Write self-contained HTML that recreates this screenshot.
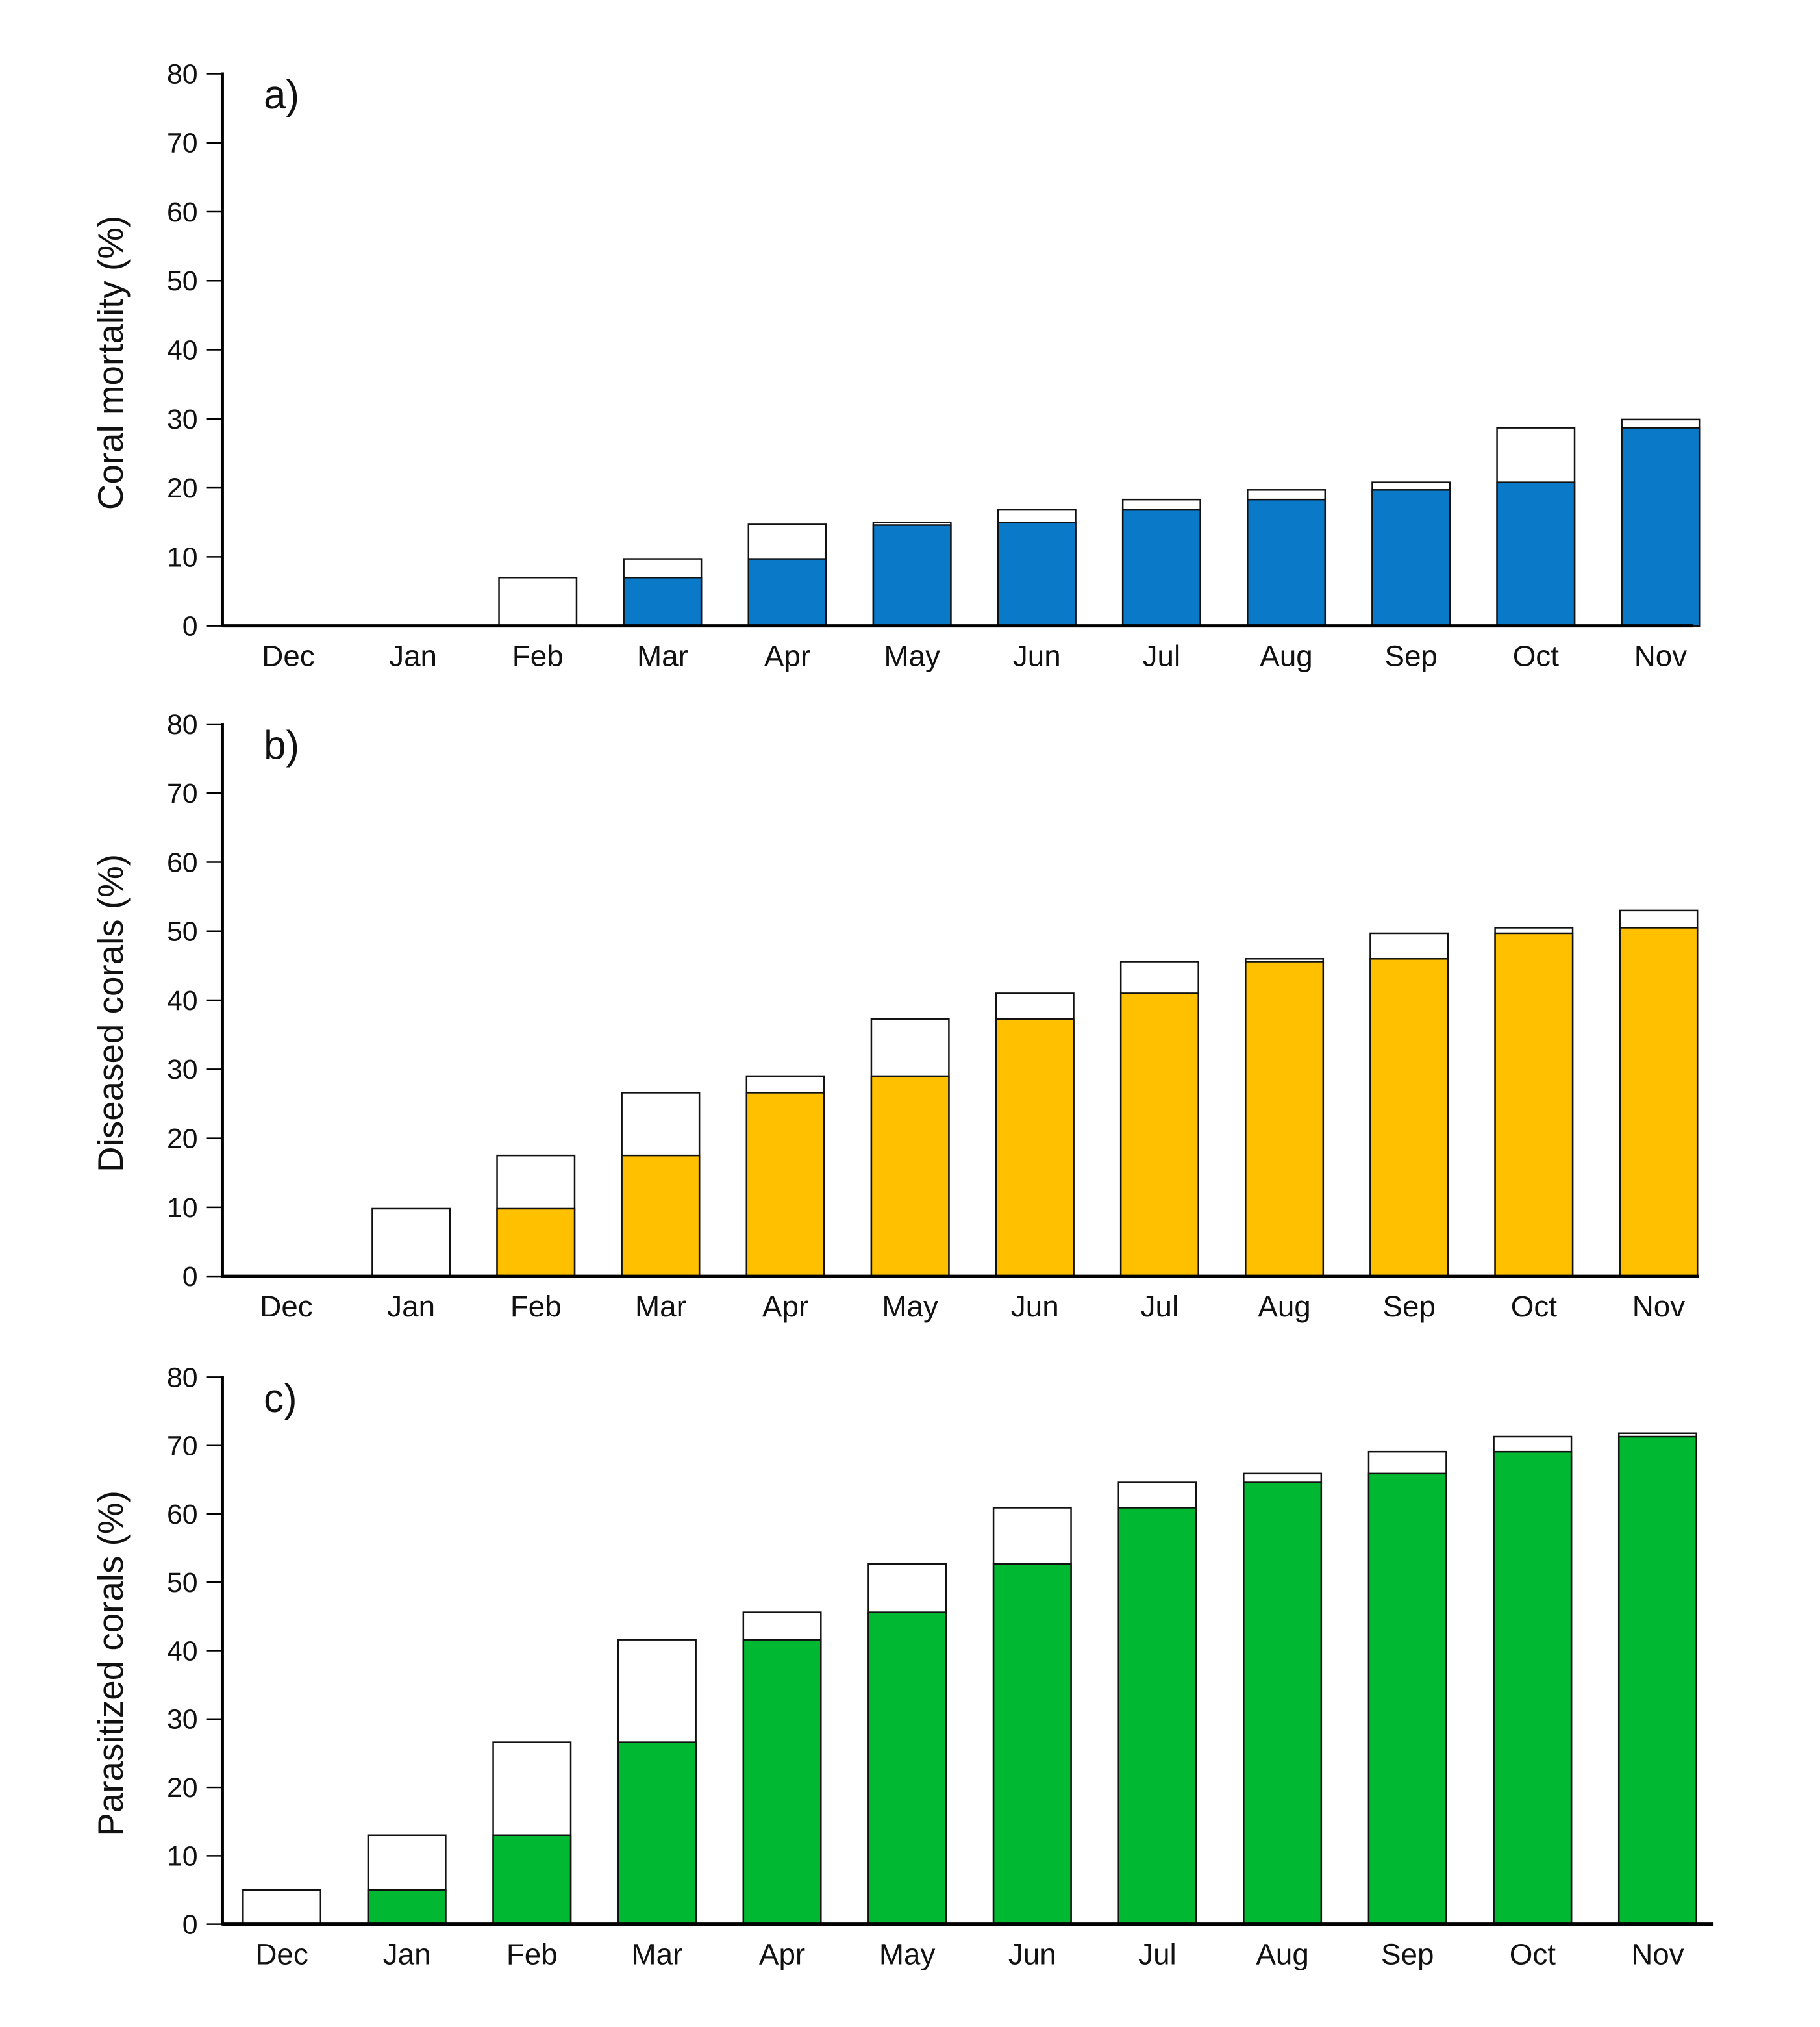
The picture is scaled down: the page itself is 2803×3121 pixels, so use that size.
<!DOCTYPE html>
<html><head><meta charset="utf-8"><style>
html,body{margin:0;padding:0;background:#fff;}
svg{display:block;font-family:"Liberation Sans",Arial,sans-serif;}
</style></head><body>
<svg width="2803" height="3121" viewBox="0 0 2803 3121" xmlns="http://www.w3.org/2000/svg"><g id="chart" transform="scale(0.9955)"></g></svg>
<script>
const months = ["Dec","Jan","Feb","Mar","Apr","May","Jun","Jul","Aug","Sep","Oct","Nov"];
const yTicks = [0,10,20,30,40,50,60,70,80];
const mortalityTotal = [0,0,7,9.7,14.7,15,16.8,18.3,19.7,20.8,28.7,29.9];
const mortalityBase  = [0,0,0,7,9.7,14.6,15,16.8,18.3,19.7,20.8,28.7];
const diseasedTotal  = [0,9.8,17.5,26.6,29,37.3,41,45.6,46,49.7,50.5,53];
const diseasedBase   = [0,0,9.8,17.5,26.6,29,37.3,41,45.6,46,49.7,50.5];
const parasitTotal   = [5,13,26.6,41.6,45.6,52.7,60.9,64.6,65.9,69.1,71.3,71.8];
const parasitBase    = [0,5,13,26.6,41.6,45.6,52.7,60.9,64.6,65.9,69.1,71.3];

const NS="http://www.w3.org/2000/svg";
const svg=document.getElementById('chart');
function mk(tag,attrs,parent){const e=document.createElementNS(NS,tag);for(const k in attrs)e.setAttribute(k,attrs[k]);(parent||svg).appendChild(e);return e;}

const panels=[
 {key:'a',label:'a)',title:'Coral mortality (%)',color:'#0a7ac8',total:mortalityTotal,base:mortalityBase,y0:968,y80:114,c0:446,step:193,axEnd:2620},
 {key:'b',label:'b)',title:'Diseased corals (%)',color:'#ffc000',total:diseasedTotal,base:diseasedBase,y0:1974,y80:1120,c0:443,step:193,axEnd:2628},
 {key:'c',label:'c)',title:'Parasitized corals (%)',color:'#00b832',total:parasitTotal,base:parasitBase,y0:2976,y80:2130,c0:436,step:193.5,axEnd:2650}
];
const axX=344, barW=120;

panels.forEach(p=>{
  const g=mk('g',{});
  
  
  const y=v=>p.y0-(p.y0-p.y80)*v/80;
  const x=i=>p.c0+i*p.step;
  months.forEach((m,i)=>{
    if(p.total[i]>0){
      const r=mk('rect',{x:x(i)-barW/2,y:y(p.total[i]),width:barW,height:y(0)-y(p.total[i]),fill:'#fff',stroke:'#111','stroke-width':2.5},g);
      
      
    }
    if(p.base[i]>0){
      const r=mk('rect',{x:x(i)-barW/2,y:y(p.base[i]),width:barW,height:y(0)-y(p.base[i]),fill:p.color,stroke:'#111','stroke-width':2.5},g);
      
      
    }
    const t=mk('text',{x:x(i),y:p.y0+62,'font-size':46,'text-anchor':'middle',fill:'#111'},g);
    t.textContent=m;
    
    
  });
  const ya=mk('line',{x1:axX,y1:p.y80-2,x2:axX,y2:p.y0+2,stroke:'#000','stroke-width':5},g);
  
  
  const xa=mk('line',{x1:axX,y1:p.y0,x2:p.axEnd,y2:p.y0,stroke:'#000','stroke-width':5},g);
  
  
  yTicks.forEach(v=>{
    const tk=mk('line',{x1:axX-24,y1:y(v),x2:axX,y2:y(v),stroke:'#000','stroke-width':2.5},g);
    
    
    const t=mk('text',{x:axX-38,y:y(v)+15,'font-size':43,'text-anchor':'end',fill:'#111'},g);
    t.textContent=v;
    
    
  });
  const cy=(p.y0+p.y80)/2+20;
  const tt=mk('text',{x:0,y:0,'font-size':55,'text-anchor':'middle',fill:'#111',transform:`translate(190,${cy}) rotate(-90)`},g);
  tt.textContent=p.title;
  
  
  const pl=mk('text',{x:408,y:p.y80+54,'font-size':62,fill:'#111'},g);
  pl.textContent=p.label;
  
  
});
</script>
</body></html>
